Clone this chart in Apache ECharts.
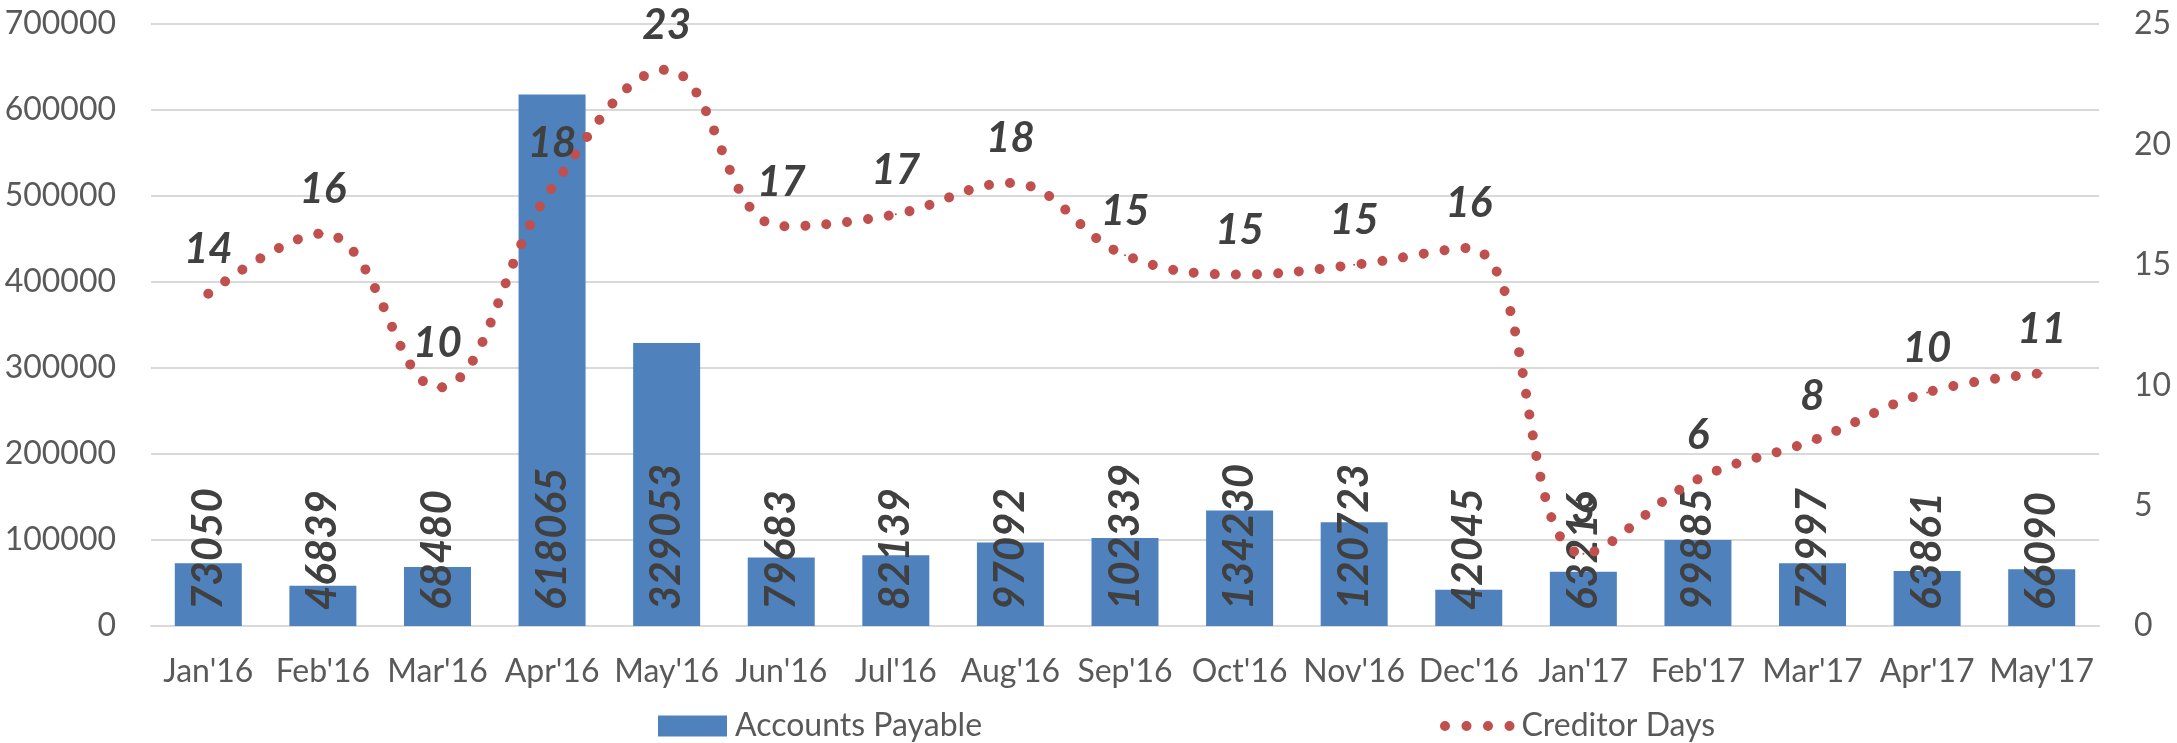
<!DOCTYPE html>
<html>
<head>
<meta charset="utf-8">
<title>Accounts Payable vs Creditor Days</title>
<script src="https://cdn.jsdelivr.net/npm/echarts@6/dist/echarts.min.js"></script>
<style>
  html, body { margin: 0; padding: 0; background: #fff; }
  #main { width: 2177px; height: 743px; }
</style>
</head>
<body>
<div id="main"></div>
<script>
// data
var months = ["Jan'16", "Feb'16", "Mar'16", "Apr'16", "May'16", "Jun'16", "Jul'16", "Aug'16", "Sep'16",
  "Oct'16", "Nov'16", "Dec'16", "Jan'17", "Feb'17", "Mar'17", "Apr'17", "May'17"];
var accountsPayable = [73050, 46839, 68480, 618065, 329053, 79683, 82139, 97092, 102339,
  134230, 120723, 42045, 63216, 99885, 72997, 63861, 66090];
var creditorDays = [13.8, 16.3, 9.9, 18.2, 23.1, 16.6, 17.1, 18.4, 15.4,
  14.6, 15.0, 15.7, 3.0, 6.1, 7.7, 9.7, 10.5];

var FONT = "Lato, 'Open Sans', sans-serif";
var GRAY = '#595959';
var LABEL = '#404040';
var RED = '#C0504D';
var dots = [0.01, 21]; // round caps turn this into dots

// four dots for the legend marker
var dotIcon = 'path://M0,5a5,5 0 1,0 10,0a5,5 0 1,0 -10,0z' +
  'M21.5,5a5,5 0 1,0 10,0a5,5 0 1,0 -10,0z' +
  'M43,5a5,5 0 1,0 10,0a5,5 0 1,0 -10,0z' +
  'M64.5,5a5,5 0 1,0 10,0a5,5 0 1,0 -10,0z';

var chart = echarts.init(document.getElementById('main'));

chart.setOption({
  animation: false,
  backgroundColor: '#fff',
  grid: { left: 151, right: 78, top: 24, bottom: 117, containLabel: false },
  legend: [
    {
      data: ['Accounts Payable'],
      left: 653, top: 705,
      icon: 'rect',
      itemWidth: 69, itemHeight: 21,
      selectedMode: false,
      textStyle: { fontFamily: FONT, fontSize: 32, color: GRAY, padding: [0, 0, 0, 3] }
    },
    {
      data: ['Creditor Days'],
      left: 1435, top: 705,
      icon: dotIcon,
      itemWidth: 74.5, itemHeight: 10,
      selectedMode: false,
      itemStyle: { color: RED },
      textStyle: { fontFamily: FONT, fontSize: 32, color: GRAY, padding: [0, 0, 0, 2] }
    }
  ],
  xAxis: {
    type: 'category',
    data: months,
    axisLine: { lineStyle: { color: '#D9D9D9', width: 2 } },
    axisTick: { show: false },
    axisLabel: { interval: 0, margin: 30, fontFamily: FONT, fontSize: 32, color: GRAY }
  },
  yAxis: [
    {
      type: 'value', min: 0, max: 700000, interval: 100000,
      axisLine: { show: false }, axisTick: { show: false },
      splitLine: { lineStyle: { color: '#D9D9D9', width: 2 } },
      axisLabel: { margin: 35, fontFamily: FONT, fontSize: 32, color: GRAY,
        formatter: function (v) { return String(v); } }
    },
    {
      type: 'value', min: 0, max: 25, interval: 5,
      axisLine: { show: false }, axisTick: { show: false },
      splitLine: { show: false },
      axisLabel: { margin: 35, fontFamily: FONT, fontSize: 32, color: GRAY }
    }
  ],
  series: [
    {
      name: 'Accounts Payable',
      type: 'bar',
      data: accountsPayable,
      barWidth: 67,
      itemStyle: { color: '#4F81BD' },
      label: {
        show: true,
        position: 'insideBottom',
        distance: 16,
        rotate: 90,
        align: 'left',
        verticalAlign: 'middle',
        fontFamily: FONT, fontSize: 42, fontWeight: 'bold', fontStyle: 'italic',
        color: LABEL
      }
    },
    {
      name: 'Creditor Days',
      type: 'line',
      yAxisIndex: 1,
      data: creditorDays,
      smooth: 0.4,
      symbol: 'circle',
      symbolSize: 2,
      showSymbol: true,
      lineStyle: { color: RED, width: 10, type: dots, cap: 'round' },
      itemStyle: { color: RED },
      label: {
        show: true,
        position: 'top',
        distance: 22,
        formatter: function (p) { return Math.round(p.value); },
        fontFamily: FONT, fontSize: 42, fontWeight: 'bold', fontStyle: 'italic',
        color: LABEL
      }
    }
  ]
});
</script>
</body>
</html>
